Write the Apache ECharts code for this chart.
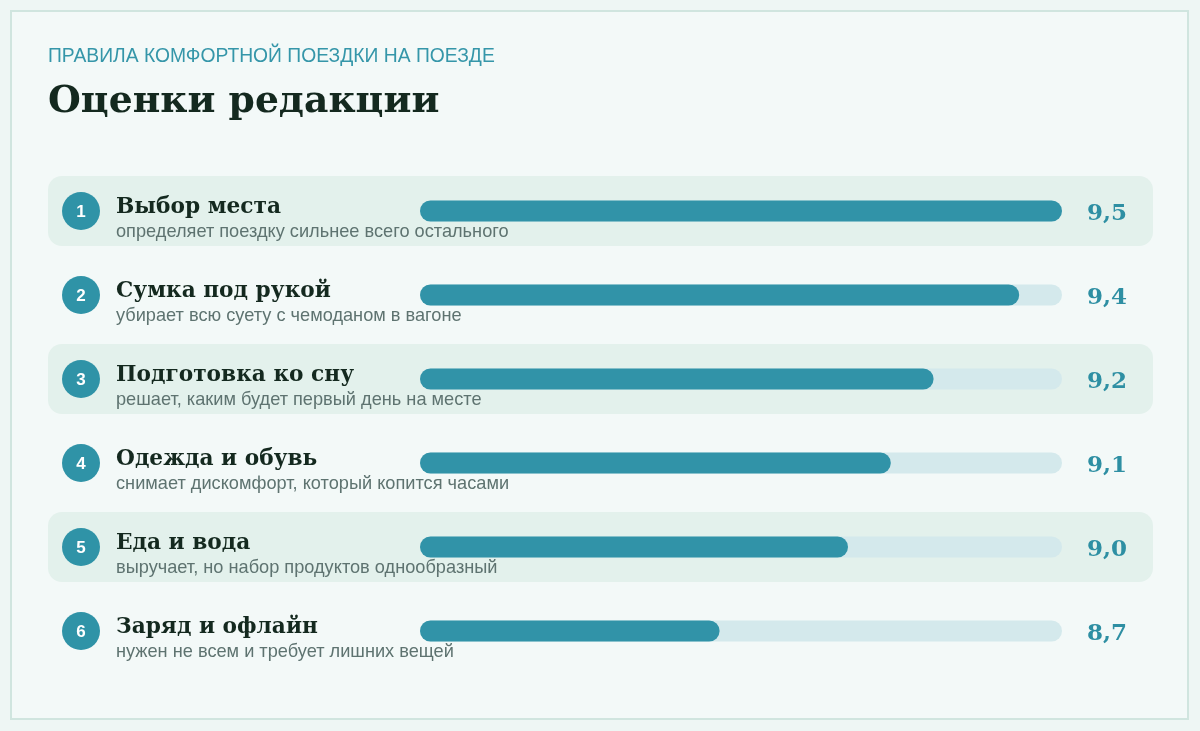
<!DOCTYPE html>
<html>
<head>
<meta charset="utf-8">
<script src="https://cdn.jsdelivr.net/npm/echarts@6/dist/echarts.min.js"></script>
<style>
html,body{margin:0;padding:0;background:#eef6f4;}
#chart{width:1200px;height:731px;}
</style>
</head>
<body>
<div id="chart"></div>
<script>
const kicker = 'ПРАВИЛА КОМФОРТНОЙ ПОЕЗДКИ НА ПОЕЗДЕ';
const heading = 'Оценки редакции';
const categories = ['Выбор места', 'Сумка под рукой', 'Подготовка ко сну', 'Одежда и обувь', 'Еда и вода', 'Заряд и офлайн'];
const notes = [
  'определяет поездку сильнее всего остального',
  'убирает всю суету с чемоданом в вагоне',
  'решает, каким будет первый день на месте',
  'снимает дискомфорт, который копится часами',
  'выручает, но набор продуктов однообразный',
  'нужен не всем и требует лишних вещей'
];
const scores = [9.5, 9.4, 9.2, 9.1, 9.0, 8.7];
const axisMin = 8;
const axisMax = 9.5;

const fmt = v => v.toFixed(1).replace('.', ',');

const chart = echarts.init(document.getElementById('chart'));
chart.setOption({
  backgroundColor: '#eef6f4',
  animation: false,
  graphic: [{
    type: 'rect', z: -10,
    shape: { x: 11, y: 11, width: 1177, height: 708 },
    style: { fill: '#f3f9f8', stroke: '#d0e5df', lineWidth: 2 }
  }],
  title: [{
    text: kicker, left: 48, top: 47, padding: 0,
    textStyle: { fontFamily: 'Liberation Sans, Arial, sans-serif', fontSize: 19.3, fontWeight: 'normal', color: '#3596a9' }
  }, {
    text: heading, left: 48, top: 83, padding: 0,
    textStyle: { fontFamily: 'DejaVu Serif, serif', fontSize: 37.7, fontWeight: 'bold', color: '#14291f' }
  }],
  grid: { left: 420, right: 138, top: 169, bottom: 58 },
  xAxis: { type: 'value', min: axisMin, max: axisMax, show: false },
  yAxis: { type: 'category', data: categories, inverse: true, show: false },
  series: [{
    type: 'custom',
    z: 1,
    clip: false,
    data: categories.map((c, i) => [axisMin, i]),
    renderItem: function (params, api) {
      const i = params.dataIndex;
      const y = api.coord([axisMin, i])[1];
      const xEnd = api.coord([axisMax, i])[0];
      const children = [];
      if (i % 2 === 0) {
        children.push({ type: 'rect', shape: { x: 48, y: y - 35, width: 1105, height: 70, r: 14 }, style: { fill: '#e3f1ec' } });
      }
      children.push({ type: 'circle', shape: { cx: 81, cy: y, r: 19 }, style: { fill: '#2f93a7' } });
      children.push({ type: 'text', style: { x: 81, y: y + 1, text: String(i + 1), align: 'center', verticalAlign: 'middle', fill: '#ffffff', font: 'bold 17px "Liberation Sans", Arial, sans-serif' } });
      children.push({ type: 'text', style: { x: 116, y: y - 4, text: categories[i], align: 'left', verticalAlign: 'middle', fill: '#14291f', font: 'bold 21.7px "DejaVu Serif", serif' } });
      children.push({ type: 'text', style: { x: 116, y: y + 21, text: notes[i], align: 'left', verticalAlign: 'middle', fill: '#5e7370', font: '18.2px "Liberation Sans", Arial, sans-serif' } });
      children.push({ type: 'text', style: { x: xEnd + 25, y: y + 3, text: fmt(scores[i]), align: 'left', verticalAlign: 'middle', fill: '#2e8fa3', font: 'bold 23px "DejaVu Serif", serif' } });
      return { type: 'group', children: children };
    }
  }, {
    type: 'bar',
    z: 3,
    data: scores,
    barWidth: 21,
    itemStyle: { color: '#3193a8', borderRadius: 10.5 },
    showBackground: true,
    backgroundStyle: { color: '#d4e9ec', borderRadius: 10.5 }
  }]
});
</script>
</body>
</html>
